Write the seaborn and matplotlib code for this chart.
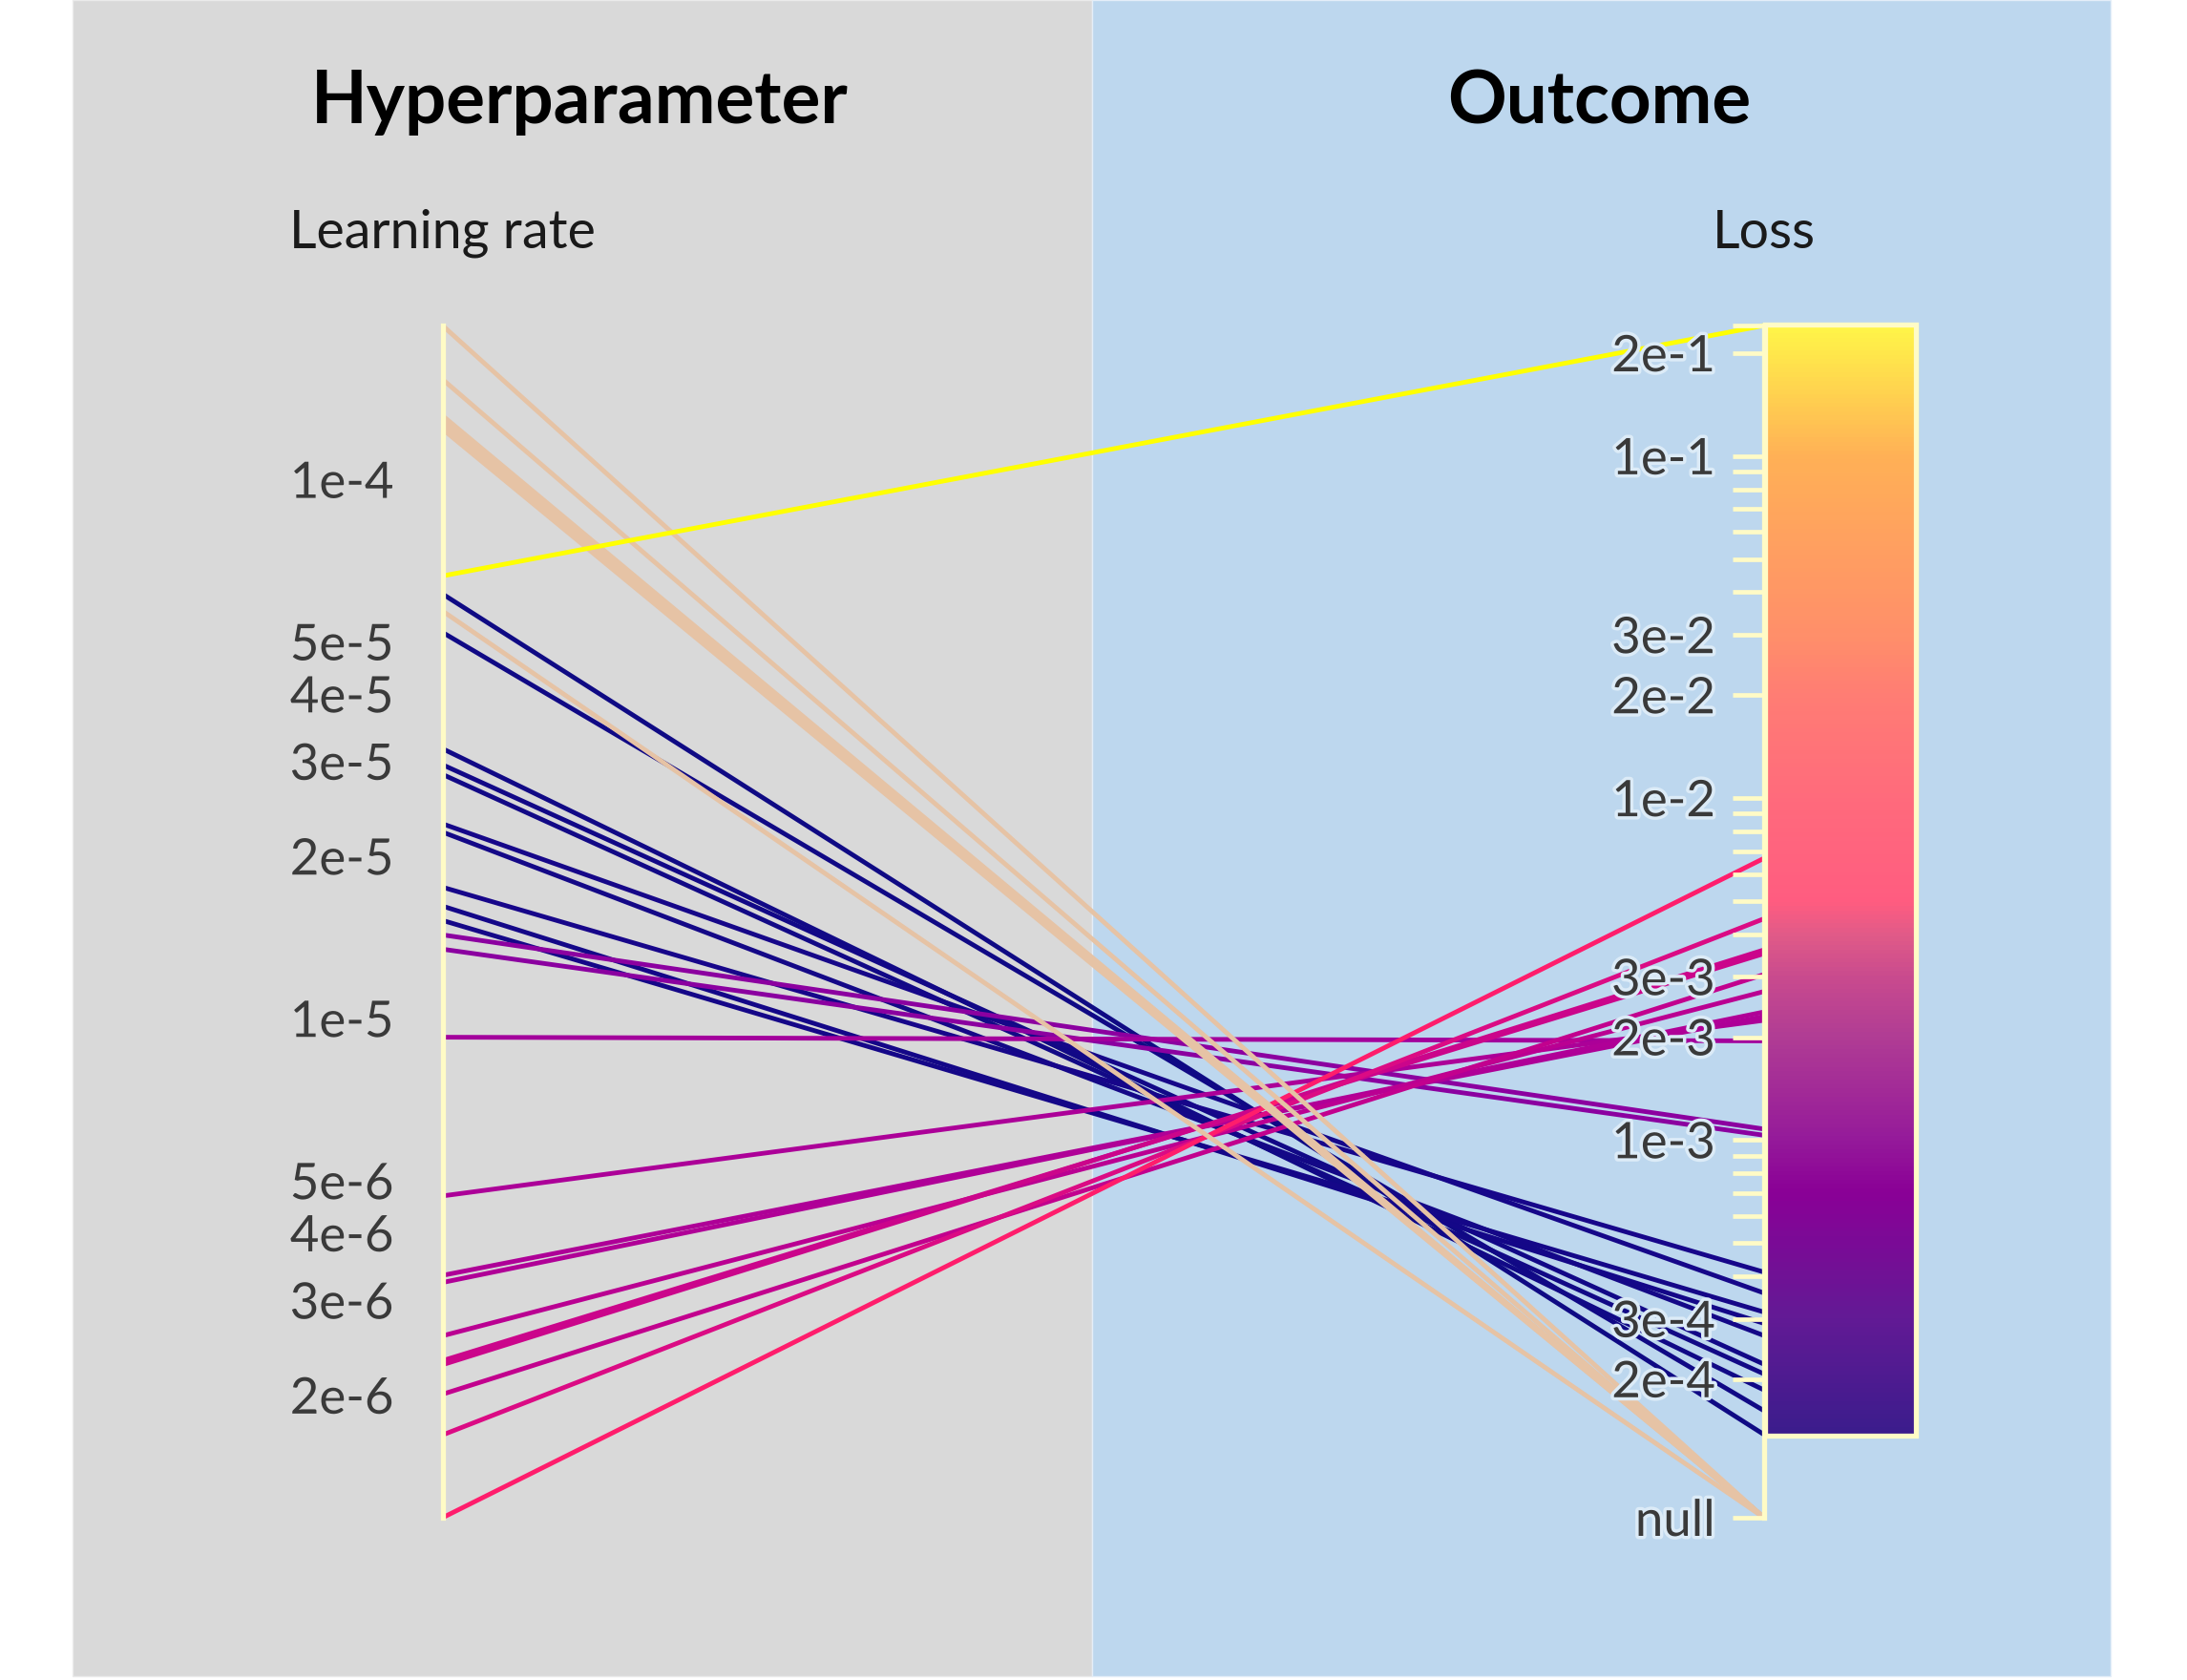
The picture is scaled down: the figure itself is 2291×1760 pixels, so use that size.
import numpy as np
import pandas as pd
import matplotlib
matplotlib.use("Agg")
import matplotlib.pyplot as plt
import matplotlib.patheffects as pe
from matplotlib.cm import ScalarMappable
from matplotlib.colors import LinearSegmentedColormap, LogNorm, to_hex
from matplotlib.patches import Rectangle
from matplotlib.ticker import FixedLocator, FuncFormatter, NullLocator
import seaborn as sns

# данные: один запуск = одна линия (nan = null loss)
learning_rate = [6.14e-5, 5.21e-5, 3.17e-5, 2.96e-5, 2.84e-5, 2.30e-5, 2.22e-5, 1.754e-5, 1.618e-5, 1.522e-5,
                 1.431e-5, 1.346e-5, 9.24e-6,
                 1.186e-6, 1.689e-6, 2.01e-6, 2.28e-6, 2.32e-6, 2.58e-6, 3.24e-6, 3.34e-6, 4.69e-6,
                 1.933e-4, 1.536e-4, 1.315e-4, 1.297e-4, 1.279e-4, 1.260e-4, 1.242e-4, 5.71e-5,
                 6.63e-5]
loss = [1.376e-4, 1.616e-4, 1.858e-4, 2.21e-4, 2.07e-4, 3.57e-4, 2.68e-4, 4.11e-4, 2.91e-4, 3.14e-4,
        1.077e-3, 1.033e-3, 1.95e-3,
        6.67e-3, 4.44e-3, 3.05e-3, 3.60e-3, 3.51e-3, 2.72e-3, 2.37e-3, 2.30e-3, 2.24e-3,
        np.nan, np.nan, np.nan, np.nan, np.nan, np.nan, np.nan, np.nan,
        0.241]
panel_titles = ["Hyperparameter", "Outcome"]
axis_names = ["Learning rate", "Loss"]

# стили
cream = "#fffbc6"
gray_bg = "#d9d9d9"
blue_bg = "#bdd7ee"
null_color = "#e6c3a5"
label_color = "#3a3a3a"
line_cmap = LinearSegmentedColormap.from_list("lines", [
    (0.0, "#0f0a84"), (0.15, "#17068a"), (0.266, "#8a00a0"), (0.358, "#a4009c"),
    (0.411, "#c0008f"), (0.463, "#d80a86"), (0.52, "#ff1c6c"), (0.72, "#ff7040"),
    (0.88, "#ffb020"), (1.0, "#ffff00")])
cbar_cmap = LinearSegmentedColormap.from_list("cbar", [
    (0.0, "#3b1c8c"), (0.104, "#621a95"), (0.218, "#8a0096"), (0.266, "#951a9a"),
    (0.358, "#b03c94"), (0.411, "#c84a8e"), (0.45, "#e05a88"), (0.48, "#ff5c80"),
    (0.572, "#ff6a7c"), (0.665, "#ff7c74"), (0.719, "#ff8e6a"), (0.882, "#ffb056"),
    (1.0, "#fff548")])

sns.set_style("white")
plt.rcParams['font.family'] = ['Lato', 'DejaVu Sans']

W, H = 2291, 1760
fig = plt.figure(figsize=(W / 100, H / 100), dpi=100)
fig.patch.set_facecolor("white")


def fx(px):
    return px / W


def fy(py):
    return 1 - py / H


# фоновые панели
fig.add_artist(Rectangle((fx(76), fy(1756)), fx(1143.5) - fx(76), 1756 / H, transform=fig.transFigure,
                         facecolor=gray_bg, edgecolor="#ebebeb", lw=1, zorder=0))
fig.add_artist(Rectangle((fx(1143.5), fy(1756)), fx(2211) - fx(1143.5), 1756 / H, transform=fig.transFigure,
                         facecolor=blue_bg, edgecolor="#e4eef8", lw=1, zorder=0))

lr = np.array(learning_rate)
ls = np.array(loss)
lr_min, lr_max = lr.min(), lr.max()
loss_min, loss_max = np.nanmin(ls), np.nanmax(ls)
gap = 0.0697  # место под null внизу правой оси
span = np.log10(loss_max) - np.log10(loss_min)
null_val = 10 ** (np.log10(loss_min) - gap / (1 - gap) * span)

rect = [fx(463.5), fy(1590), (1848 - 463.5) / W, (1590 - 341) / H]
ax = fig.add_axes(rect, label="lines")
axl = fig.add_axes(rect, label="left")
axr = fig.add_axes(rect, label="right")

for a in (ax, axl, axr):
    a.patch.set_visible(False)
    a.set_xticks([])
    for s in a.spines.values():
        s.set_visible(False)
ax.set_xlim(0, 1)
ax.set_ylim(0, 1)
ax.set_yticks([])

axl.set_yscale("log")
axl.set_ylim(lr_min, lr_max)
axr.set_yscale("log")
axr.set_ylim(null_val, loss_max)


def frac(a, values):
    pts = np.column_stack([np.full(len(values), 0.5), values])
    return a.transAxes.inverted().transform(a.transData.transform(pts))[:, 1]


y_left = frac(axl, lr)
y_right = frac(axr, np.where(np.isnan(ls), null_val, ls))

lnorm = LogNorm(loss_min, loss_max)
runs = [f"r{i:02d}" for i in range(len(lr))]
palette = {r: (null_color if np.isnan(v) else to_hex(line_cmap(lnorm(v)))) for r, v in zip(runs, ls)}

# порядок отрисовки: по возрастанию loss, null перед самым большим
nonnull = [i for i in np.argsort(np.nan_to_num(ls, nan=np.inf)) if not np.isnan(ls[i])]
nulls = [i for i in range(len(ls)) if np.isnan(ls[i])]
order = nonnull[:-1] + nulls + nonnull[-1:]
hue_order = [runs[i] for i in order]

df = pd.DataFrame({
    "run": runs * 2,
    "x": [0.0] * len(runs) + [1.0] * len(runs),
    "y": list(y_left) + list(y_right),
})
sns.lineplot(data=df, x="x", y="y", hue="run", hue_order=hue_order, palette=palette,
             units="run", estimator=None, sort=False, lw=3.5, legend=False, ax=ax)
for line in ax.lines:
    line.set_clip_on(False)
    line.set_solid_capstyle("butt")
ax.set_xlabel("")
ax.set_ylabel("")


def log_ticks(lo, hi):
    out = []
    for e in range(-8, 1):
        for m in range(1, 10):
            v = m * 10.0 ** e
            if lo * 1.0001 <= v <= hi / 1.0001:
                out.append(v)
    return out


def make_fmt(keep, null=None):
    def fmt(v, pos):
        if null is not None and abs(v / null - 1) < 1e-6:
            return "null"
        e = int(np.floor(np.log10(v) + 1e-9))
        m = v / 10.0 ** e
        if abs(m - round(m)) > 0.01 or int(round(m)) not in keep:
            return ""
        return f"{int(round(m))}e{e}"
    return fmt


tick_kw = dict(axis="y", which="major", direction="out", length=23.8, width=3.4,
               color=cream, pad=13, labelsize=38, labelcolor=label_color)

axl.spines["left"].set_visible(True)
axl.spines["left"].set_color(cream)
axl.spines["left"].set_linewidth(3.8)
axl.yaxis.set_major_locator(FixedLocator(log_ticks(lr_min, lr_max) + [lr_min, lr_max]))
axl.yaxis.set_minor_locator(NullLocator())
axl.yaxis.set_major_formatter(FuncFormatter(make_fmt((1, 2, 3, 4, 5))))
axl.tick_params(**tick_kw)

axr.spines["left"].set_visible(True)
axr.spines["left"].set_position(("axes", 1.0))
axr.spines["left"].set_color(cream)
axr.spines["left"].set_linewidth(3.8)
axr.yaxis.set_ticks_position("left")
axr.yaxis.set_major_locator(FixedLocator(log_ticks(loss_min, loss_max) + [loss_max, null_val]))
axr.yaxis.set_minor_locator(NullLocator())
axr.yaxis.set_major_formatter(FuncFormatter(make_fmt((1, 2, 3), null=null_val)))
axr.tick_params(**tick_kw)

fig.canvas.draw()
for lbl in axl.get_yticklabels():
    lbl.set_path_effects([pe.withStroke(linewidth=5, foreground=gray_bg)])
for lbl in axr.get_yticklabels():
    lbl.set_path_effects([pe.withStroke(linewidth=5, foreground="#dcebf7")])

# цветовая шкала loss
cax = fig.add_axes([fx(1849), fy(1504), (2006.5 - 1849) / W, (1504 - 340) / H])
cb = fig.colorbar(ScalarMappable(norm=lnorm, cmap=cbar_cmap), cax=cax)
cb.ax.yaxis.set_major_locator(FixedLocator([]))
cb.ax.yaxis.set_minor_locator(NullLocator())
cb.outline.set_edgecolor(cream)
cb.outline.set_linewidth(3.8)

# подписи
fig.text(fx(607.5), fy(129.3), panel_titles[0], ha="center", va="baseline",
         fontsize=55, fontweight="bold", color="black")
fig.text(fx(1675), fy(129.3), panel_titles[1], ha="center", va="baseline",
         fontsize=55, fontweight="bold", color="black")
fig.text(fx(463.5), fy(260), axis_names[0], ha="center", va="baseline", fontsize=40, color="#1a1a1a")
fig.text(fx(1848), fy(260), axis_names[1], ha="center", va="baseline", fontsize=40, color="#1a1a1a")

fig.savefig("out.png", dpi=100)
